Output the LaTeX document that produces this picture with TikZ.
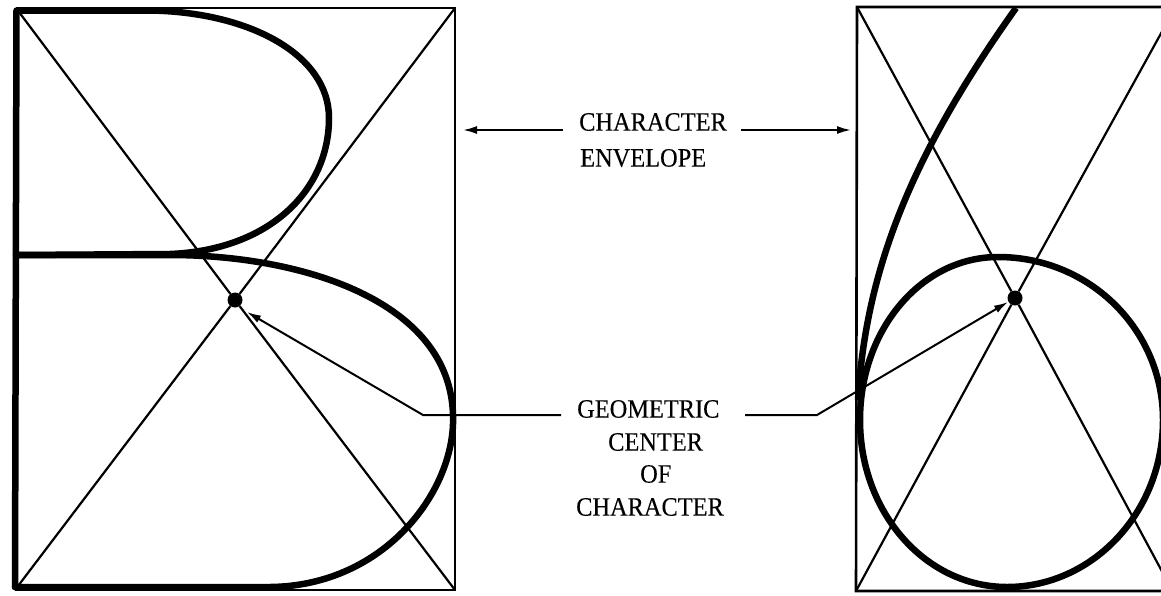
\documentclass[tikz,border=0pt]{standalone}
\usepackage{fontspec}
\setmainfont{Liberation Serif}
\usetikzlibrary{arrows.meta}
\newfontfamily\labelfont[FakeStretch=0.92,FakeBold=0.25]{Liberation Serif}
\tikzset{
  glyph/.style={line width=6.5pt,line cap=round,line join=round},
  frame/.style={line width=2.2pt},
  guide/.style={line width=2.2pt},
  leader/.style={line width=2pt},
  arrowed/.style={leader,-{Latex[length=14pt,width=8pt]}},
  centerdot/.style={circle,fill=black,inner sep=0pt,minimum size=15pt},
  caption/.style={inner sep=0pt,font=\labelfont\fontsize{26.5pt}{26.5pt}\selectfont}
}
\begin{document}
\begin{tikzpicture}[x=1pt,y=-1pt]
\useasboundingbox (0,0) rectangle (1161,595);
\clip (0,0) rectangle (1161,595);
\fill[white] (0,0) rectangle (1161,595);
% left frame
\coordinate (ltl) at (16,8);
\coordinate (ltr) at (455,8);
\coordinate (lbr) at (455,590);
\coordinate (lbl) at (15,590);
\node[centerdot] (ldot) at (235,300) {};
\draw[frame] (ltl) -- (ltr) -- (lbr) -- (lbl);
\draw[guide] (ltl) -- (ldot) -- (lbr);
\draw[guide] (lbl) -- (ldot) -- (ltr);
% letter B
\draw[glyph] (15,587) -- (16.5,10.5) -- (150,10.5)
  .. controls (250,12) and (329,55) .. (329,118)
  .. controls (329,190) and (270,250) .. (170,254)
  -- (16,255);
\draw[glyph] (16,255) -- (170,255)
  .. controls (300,255) and (450,300) .. (453,415)
  .. controls (456,490) and (385,586) .. (270,587)
  -- (15,587);
% right frame
\coordinate (rtl) at (857,7);
\coordinate (rtr) at (1175,7);
\coordinate (rbr) at (1175,591);
\coordinate (rbl) at (856,591);
\node[centerdot] (rdot) at (1015,298) {};
\draw[frame,line width=2.6pt] (rtr) -- (rtl) -- (rbl) -- (rbr);
\draw[guide] (rtl) -- (rdot) -- (1172,590);
\draw[guide] (rbl) -- (rdot) -- (1175,8);
% letter b
\draw[glyph,line cap=butt] (1016,8) .. controls (915,150) and (866,265) .. (858,400);
\draw[glyph] (860,420) .. controls (860,330) and (921,257) .. (998,257)
  .. controls (1090,257) and (1163,330) .. (1163,420)
  .. controls (1163,512) and (1093,587) .. (1007,587)
  .. controls (925,587) and (860,512) .. (860,420);
% captions
\node[caption,anchor=west] (ch1) at (579,122) {CHARACTER};
\node[caption,anchor=west] (ch2) at (580,158) {ENVELOPE};
\node[caption,anchor=west] (ge1) at (577,409) {GEOMETRIC};
\node[caption,anchor=west] (ge2) at (608,442) {CENTER};
\node[caption,anchor=west] (ge3) at (640,474) {OF};
\node[caption,anchor=west] (ge4) at (576,507) {CHARACTER};
% leaders
\coordinate (a1s) at (563,130);
\coordinate (a1e) at (463,130);
\coordinate (a2s) at (741,130);
\coordinate (a2e) at (851,130);
\draw[arrowed] (a1s) -- (a1e);
\draw[arrowed] (a2s) -- (a2e);
\coordinate (g1s) at (561,415);
\coordinate (g1m) at (423,415);
\coordinate (g1e) at (247,312);
\coordinate (g2s) at (745,415);
\coordinate (g2m) at (817,415);
\coordinate (g2e) at (1008,302);
\draw[arrowed] (g1s) -- (g1m) -- (g1e);
\draw[arrowed] (g2s) -- (g2m) -- (g2e);
\end{tikzpicture}
\end{document}
